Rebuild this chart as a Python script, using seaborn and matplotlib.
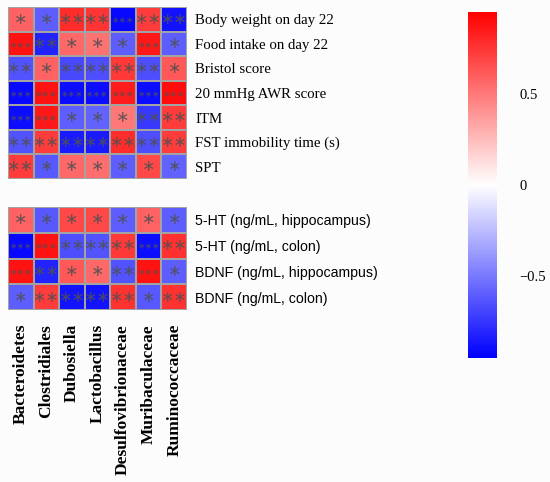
import numpy as np
import pandas as pd
import matplotlib
matplotlib.use("Agg")
import matplotlib.pyplot as plt
import seaborn as sns

taxa = ["Bacteroidetes", "Clostridiales", "Dubosiella", "Lactobacillus",
        "Desulfovibrionaceae", "Muribaculaceae", "Ruminococcaceae"]

top_rows = ["Body weight on day 22", "Food intake on day 22", "Bristol score",
            "20 mmHg AWR score", "ITM", "FST immobility time (s)", "SPT"]
bottom_rows = ["5-HT (ng/mL, hippocampus)", "5-HT (ng/mL, colon)",
               "BDNF (ng/mL, hippocampus)", "BDNF (ng/mL, colon)"]

top_r = [
    [0.58, -0.6, 0.78, 0.75, -0.92, 0.72, -0.88],
    [0.88, -0.82, 0.56, 0.52, -0.6, 0.86, -0.6],
    [-0.64, 0.58, -0.68, -0.66, 0.74, -0.66, 0.62],
    [-0.92, 0.88, -0.9, -0.9, 0.84, -0.9, 0.9],
    [-0.9, 0.86, -0.6, -0.58, 0.5, -0.74, 0.72],
    [-0.64, 0.72, -0.85, -0.85, 0.78, -0.66, 0.72],
    [0.72, -0.62, 0.56, 0.54, -0.6, 0.68, -0.58],
]
top_sig = [
    [1, 1, 2, 2, 3, 2, 2],
    [3, 2, 1, 1, 1, 3, 1],
    [2, 1, 2, 2, 2, 2, 1],
    [3, 3, 3, 3, 3, 3, 3],
    [3, 3, 1, 1, 1, 2, 2],
    [2, 2, 2, 2, 2, 2, 2],
    [2, 1, 1, 1, 1, 1, 1],
]
bottom_r = [
    [0.58, -0.62, 0.68, 0.68, -0.6, 0.58, -0.6],
    [-0.92, 0.88, -0.66, -0.64, 0.74, -0.9, 0.77],
    [0.88, -0.82, 0.62, 0.56, -0.64, 0.88, -0.6],
    [-0.6, 0.72, -0.88, -0.88, 0.76, -0.62, 0.76],
]
bottom_sig = [
    [1, 1, 1, 1, 1, 1, 1],
    [3, 3, 2, 2, 2, 3, 2],
    [3, 2, 1, 1, 2, 3, 1],
    [1, 2, 2, 2, 2, 1, 2],
]

cbar_ticks = [-0.5, 0, 0.5]
VMIN, VMAX = -0.95, 0.95

def stars(sig):
    return np.array([["\u2217" * s for s in row] for row in sig])

W, H = 550, 482
fig = plt.figure(figsize=(W / 100, H / 100), dpi=100, facecolor="#fcfcfc")

def frac(x0, y0, x1, y1):
    return [x0 / W, 1 - y1 / H, (x1 - x0) / W, (y1 - y0) / H]

ax1 = fig.add_axes(frac(8, 7, 187, 179))
ax2 = fig.add_axes(frac(8, 207, 187, 310))
cax = fig.add_axes(frac(468, 12, 497, 358))

kw = dict(cmap="bwr", vmin=VMIN, vmax=VMAX, cbar=False, linewidths=1.3,
          linecolor="#a3a3a3", fmt="")

df1 = pd.DataFrame(top_r, index=top_rows, columns=taxa)
df2 = pd.DataFrame(bottom_r, index=bottom_rows, columns=taxa)
sns.heatmap(df1, ax=ax1, annot=stars(top_sig), **kw)
sns.heatmap(df2, ax=ax2, annot=stars(bottom_sig), **kw)

for ax in (ax1, ax2):
    for t in ax.texts:
        n = len(t.get_text())
        t.set_color("#505050")
        t.set_alpha(0.85)
        t.set_family("DejaVu Sans")
        t.set_fontsize(6.5 if n == 3 else 11.5)
        if n == 3:
            x, y = t.get_position()
            t.set_position((x, y + 0.05))
    ax.yaxis.tick_right()
    ax.tick_params(axis="y", length=0, pad=6)
    ax.tick_params(axis="x", length=0)

ax1.set_yticklabels(top_rows, rotation=0, ha="left", family="Liberation Serif",
                    fontsize=10.7)
ax1.set_xticks([])
ax1.set_xlabel("")
ax2.set_yticklabels(bottom_rows, rotation=0, ha="left", family="Liberation Sans",
                    fontsize=10.2)
ax2.set_xticklabels(taxa, rotation=90, family="Liberation Serif",
                    fontweight="bold", fontsize=12.5)
ax2.tick_params(axis="x", pad=10)
ax2.set_xlabel("")

cb = fig.colorbar(ax1.collections[0], cax=cax, ticks=cbar_ticks)
cb.outline.set_visible(False)
cb.ax.tick_params(length=0, pad=16)
cb.ax.set_yticklabels(["\u22120.5", "0", "0.5"], family="Liberation Serif",
                      fontsize=10.5)

fig.savefig("out.png", dpi=100, facecolor=fig.get_facecolor())
